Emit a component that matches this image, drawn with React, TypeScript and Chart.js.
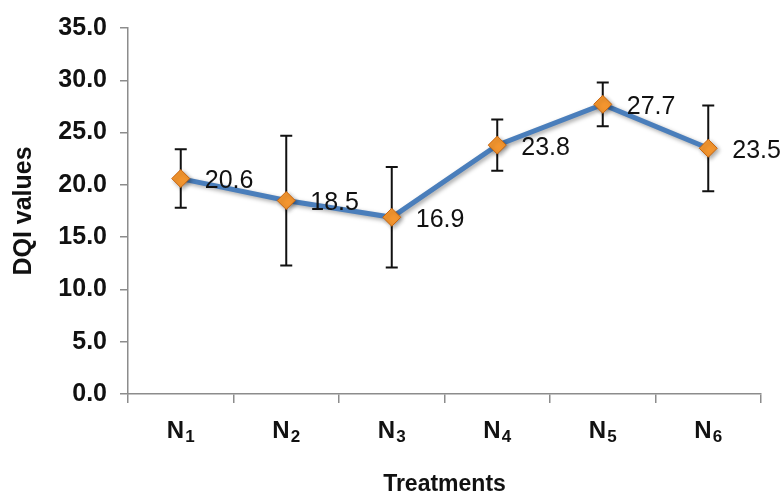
import React, { useEffect, useRef } from "react";
import { Chart, registerables } from "chart.js";

Chart.register(...registerables);

const categories = ["N₁", "N₂", "N₃", "N₄", "N₅", "N₆"];
const dqiValues = [20.6, 18.5, 16.9, 23.8, 27.7, 23.5];
const errorValues = [2.8, 6.2, 4.8, 2.45, 2.1, 4.1];
const yMin = 0;
const yMax = 35;
const yStep = 5;
const yTitle = "DQI values";
const xTitle = "Treatments";

const SANS = "'Liberation Sans', Arial, sans-serif";
const SUBS = "₀₁₂₃₄₅₆₇₈₉";

const errorBarPlugin = {
  id: "errorBars",
  beforeDatasetsDraw(chart: any) {
    const meta = chart.getDatasetMeta(0);
    const y = chart.scales.y;
    const ctx = chart.ctx;
    ctx.save();
    ctx.strokeStyle = "#111";
    ctx.lineWidth = 2;
    meta.data.forEach((pt: any, i: number) => {
      const v = dqiValues[i];
      const e = errorValues[i];
      const top = y.getPixelForValue(v + e);
      const bot = y.getPixelForValue(v - e);
      const x = pt.x;
      ctx.beginPath();
      ctx.moveTo(x, top);
      ctx.lineTo(x, bot);
      ctx.moveTo(x - 6, top);
      ctx.lineTo(x + 6, top);
      ctx.moveTo(x - 6, bot);
      ctx.lineTo(x + 6, bot);
      ctx.stroke();
    });
    ctx.restore();
  },
  beforeDatasetDraw(chart: any) {
    const ctx = chart.ctx;
    ctx.save();
    ctx.shadowColor = "rgba(0,0,0,0.35)";
    ctx.shadowBlur = 4;
    ctx.shadowOffsetX = 2;
    ctx.shadowOffsetY = 2;
  },
  afterDatasetDraw(chart: any) {
    chart.ctx.restore();
  },
  afterDatasetsDraw(chart: any) {
    const meta = chart.getDatasetMeta(0);
    const ctx = chart.ctx;
    ctx.save();
    ctx.fillStyle = "#111";
    ctx.font = `25px ${SANS}`;
    ctx.textAlign = "left";
    ctx.textBaseline = "middle";
    meta.data.forEach((pt: any, i: number) => {
      ctx.fillText(dqiValues[i].toFixed(1), pt.x + 24, pt.y + 3);
    });
    ctx.restore();
  },
  afterDraw(chart: any) {
    // category labels with real subscripts
    const ctx = chart.ctx;
    const xs = chart.scales.x;
    const baseY = chart.chartArea.bottom + 44;
    ctx.save();
    ctx.fillStyle = "#111";
    ctx.textAlign = "left";
    ctx.textBaseline = "alphabetic";
    categories.forEach((label, i) => {
      let base = "";
      let sub = "";
      for (const ch of label) {
        const k = SUBS.indexOf(ch);
        if (k >= 0) sub += String(k);
        else base += ch;
      }
      const baseFont = `bold 24px ${SANS}`;
      const subFont = `bold 17px ${SANS}`;
      ctx.font = baseFont;
      const w1 = ctx.measureText(base).width;
      ctx.font = subFont;
      const w2 = ctx.measureText(sub).width;
      const x0 = xs.getPixelForValue(i) - (w1 + w2 + 1) / 2;
      ctx.font = baseFont;
      ctx.fillText(base, x0, baseY);
      ctx.font = subFont;
      ctx.fillText(sub, x0 + w1 + 1, baseY + 4);
    });
    ctx.restore();
  },
};

export default function App() {
  const ref = useRef<HTMLCanvasElement | null>(null);
  useEffect(() => {
    if (!ref.current) return;
    const chart = new Chart(ref.current, {
      type: "line",
      data: {
        labels: categories,
        datasets: [
          {
            data: dqiValues,
            borderColor: "#4a7ebb",
            borderWidth: 5,
            tension: 0,
            pointStyle: "rectRot",
            pointRadius: 9,
            pointHoverRadius: 9,
            pointBackgroundColor: "#f4962f",
            pointBorderColor: "#c9650d",
            pointBorderWidth: 1,
            clip: false,
          } as any,
        ],
      },
      options: {
        responsive: false,
        animation: false,
        devicePixelRatio: 1,
        layout: { padding: { top: 28, right: 22, bottom: 0, left: 0 } },
        plugins: {
          legend: { display: false },
          tooltip: { enabled: false },
        },
        scales: {
          x: {
            offset: true,
            grid: {
              offset: true,
              drawOnChartArea: false,
              drawTicks: true,
              tickLength: 9,
              color: "#8c8c8c",
              lineWidth: 1.5,
            },
            border: { color: "#8c8c8c", width: 1.5 },
            ticks: { display: false },
            title: {
              display: true,
              text: xTitle,
              color: "#111",
              font: { family: SANS, size: 23, weight: "bold", lineHeight: 0.9 },
              padding: 0,
            },
            afterFit(scale: any) {
              scale.height = 101;
            },
          },
          y: {
            min: yMin,
            max: yMax,
            grid: {
              drawOnChartArea: false,
              drawTicks: true,
              tickLength: 8,
              color: "#8c8c8c",
              lineWidth: 1.5,
            },
            border: { color: "#8c8c8c", width: 1.5 },
            ticks: {
              stepSize: yStep,
              color: "#111",
              font: { family: SANS, size: 25, weight: "bold" },
              padding: 13,
              callback: (v: any) => Number(v).toFixed(1),
            },
            title: {
              display: true,
              text: yTitle,
              color: "#111",
              font: { family: SANS, size: 25, weight: "bold" },
              padding: { top: 9, bottom: 0 },
            },
            afterFit(scale: any) {
              scale.width = 128;
            },
          },
        },
      },
      plugins: [errorBarPlugin],
    });
    return () => chart.destroy();
  }, []);
  return (
    <div style={{ position: "absolute", left: 0, top: 0, width: 783, height: 495, background: "#fff" }}>
      <canvas ref={ref} width={783} height={495} style={{ display: "block" }} />
    </div>
  );
}
